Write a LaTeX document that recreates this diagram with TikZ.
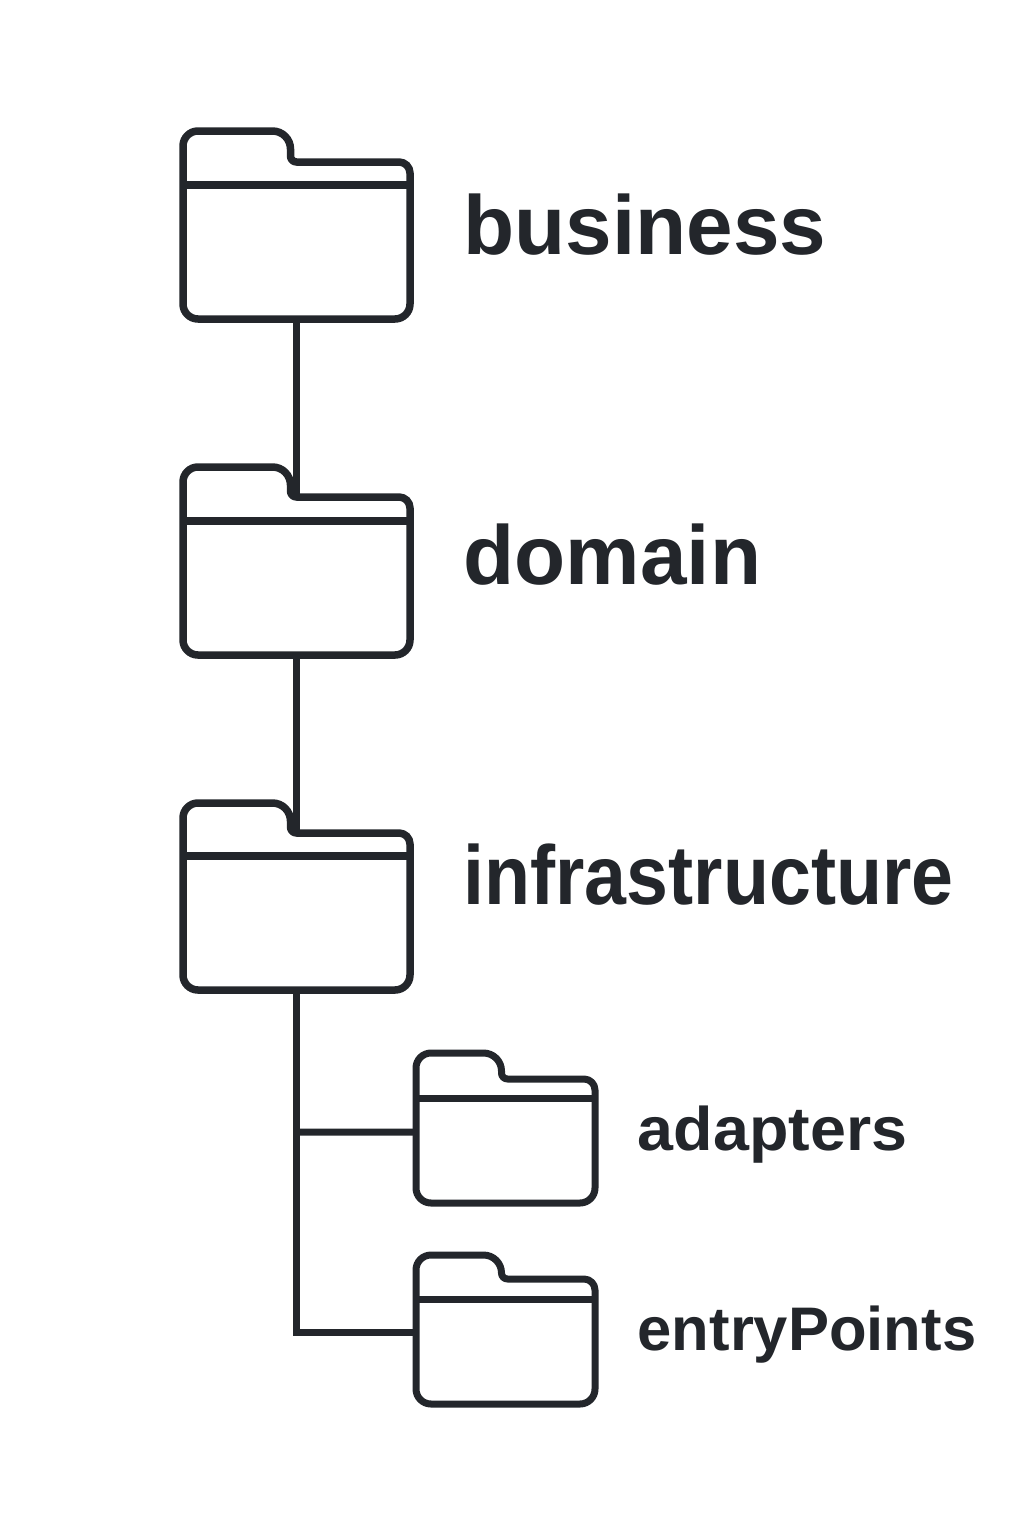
\documentclass[tikz,border=0pt]{standalone}
\usepackage{fontspec}
\setmainfont{Liberation Sans}
\usetikzlibrary{fit}
\definecolor{inkdark}{HTML}{23262B}
\tikzset{
  folderline/.style={draw=inkdark,line width=#1,line join=round},
  folderline/.default=0.075cm,
  linkline/.style={draw=inkdark,line width=#1,line join=miter},
  linkline/.default=0.07cm,
  biglabel/.style={font=\fontsize{23.8}{28}\selectfont\bfseries,text=inkdark,anchor=base west,inner sep=0pt},
  smalllabel/.style={font=\fontsize{17.5}{21}\selectfont\bfseries,text=inkdark,anchor=base west,inner sep=0pt},
  fitwidth/.style={transform shape,xscale=#1},
}
% name, left, top, right, bottom, tab edge, step, bar, line width
\newcommand{\folder}[9]{
\node[fit={(#2,#3)(#4,#5)},inner sep=0pt] (#1) {};
\coordinate (#1step) at (#1.center |- #6,#7);
\draw[folderline=#9] (#2,#8) [rounded corners=0.15cm] -- (#2,#3) [rounded corners=0.18cm] -- (#6,#3) [rounded corners=0.06cm] -- (#6,#7) [rounded corners=0.11cm] -- (#4,#7) [rounded corners=0.15cm] -- (#4,#5) -- (#2,#5) -- cycle;
\draw[folderline=#9] (#2,#8) -- (#4,#8);
}
\begin{document}
\begin{tikzpicture}[x=0.01cm,y=-0.01cm]
\useasboundingbox (0,0) rectangle (1024,1536);
\fill[white] (0,0) rectangle (1024,1536);

\folder{business}{183}{131}{410}{319}{290.5}{162}{185}{0.075cm}
\folder{domain}{183}{467}{410}{655}{290.5}{497}{521}{0.075cm}
\folder{infrastructure}{183}{803}{410}{990}{290.5}{833}{856}{0.075cm}
\folder{adapters}{416}{1053}{595}{1203}{501.5}{1079}{1098.5}{0.07cm}
\folder{entryPoints}{416}{1255}{595}{1404}{501.5}{1279}{1299.5}{0.07cm}

\node[biglabel] (businesslabel) at (463,254) {business};
\node[biglabel] (domainlabel) at (463,584) {domain};
\node[biglabel,fitwidth=0.9] (infrastructurelabel) at (463,904) {infrastructure};
\node[smalllabel,fitwidth=1.05] (adapterslabel) at (637,1150) {adapters};
\node[smalllabel] (entryPointslabel) at (637,1350) {entryPoints};

\draw[folderline] (business.south) -- (domainstep);
\draw[folderline] (domain.south) -- (infrastructurestep);
\draw[linkline] (infrastructure.south) |- ([yshift=-0.025cm]entryPoints.west);
\draw[linkline] (infrastructure.south |- adapters.west) ++(0,4) -- ([yshift=-0.04cm]adapters.west);
\end{tikzpicture}
\end{document}
